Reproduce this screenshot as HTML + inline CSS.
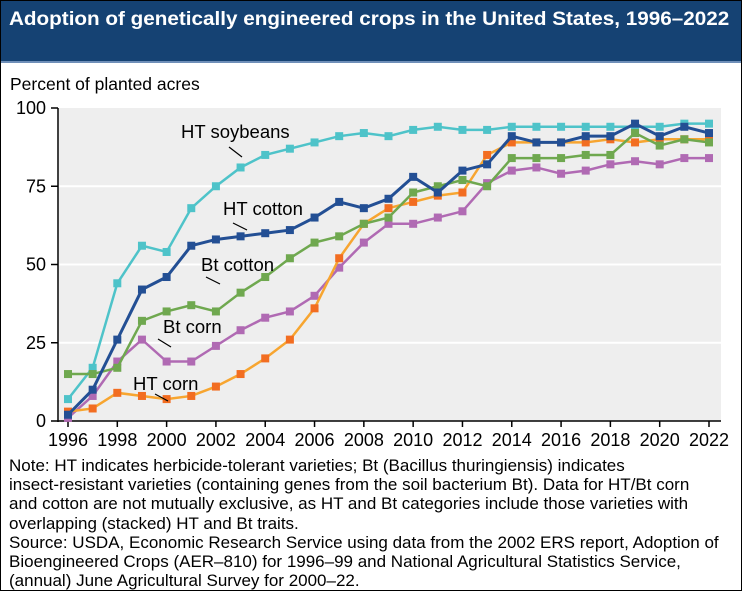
<!DOCTYPE html>
<html><head><meta charset="utf-8"><style>
body{margin:0;background:#fff;}
#wrap{position:relative;width:740px;height:589px;border:1px solid #000;overflow:hidden;font-family:"Liberation Sans",Arial,sans-serif;}
#title{position:absolute;left:0;top:0;width:740px;height:60px;background:#154273;border-bottom:2px solid #6f8fb8;}
#title span{position:absolute;left:8px;top:7px;color:#fff;font-weight:bold;font-size:19.5px;white-space:nowrap;transform-origin:0 0;transform:scaleX(1.06);}
#note{position:absolute;left:8px;top:455px;font-size:17px;line-height:19.2px;color:#000;white-space:nowrap;}
</style></head><body>
<div id="wrap">
<div id="title"><span>Adoption of genetically engineered crops in the United States, 1996–2022</span></div>
<svg id="svg" width="740" height="460" style="position:absolute;left:0;top:0"></svg>
<div id="note">Note: HT indicates herbicide-tolerant varieties; Bt (Bacillus thuringiensis) indicates<br>insect-resistant varieties (containing genes from the soil bacterium Bt). Data for HT/Bt corn<br>and cotton are not mutually exclusive, as HT and Bt categories include those varieties with<br>overlapping (stacked) HT and Bt traits.<br>Source: USDA, Economic Research Service using data from the 2002 ERS report, Adoption of<br>Bioengineered Crops (AER–810) for 1996–99 and National Agricultural Statistics Service,<br>(annual) June Agricultural Survey for 2000–22.</div>
</div>
<script>
const years=[1996,1997,1998,1999,2000,2001,2002,2003,2004,2005,2006,2007,2008,2009,2010,2011,2012,2013,2014,2015,2016,2017,2018,2019,2020,2021,2022];
const htSoy=[7,17,44,56,54,68,75,81,85,87,89,91,92,91,93,94,93,93,94,94,94,94,94,94,94,95,95];
const htCotton=[2,10,26,42,46,56,58,59,60,61,65,70,68,71,78,73,80,82,91,89,89,91,91,95,91,94,92];
const btCotton=[15,15,17,32,35,37,35,41,46,52,57,59,63,65,73,75,77,75,84,84,84,85,85,92,88,90,89];
const btCorn=[1,8,19,26,19,19,24,29,33,35,40,49,57,63,63,65,67,76,80,81,79,80,82,83,82,84,84];
const htCorn=[3,4,9,8,7,8,11,15,20,26,36,52,63,68,70,72,73,85,89,89,89,89,90,89,90,90,90];
const yTicks=[0,25,50,75,100];
const xTicks=[1996,1998,2000,2002,2004,2006,2008,2010,2012,2014,2016,2018,2020,2022];
const NS="http://www.w3.org/2000/svg";
const svg=document.getElementById('svg');
const X=v=>67+(v-1996)*(708-67)/26;
const Y=v=>420-v*(420-107)/100;
function el(t,a){const e=document.createElementNS(NS,t);for(const k in a)e.setAttribute(k,a[k]);svg.appendChild(e);return e;}
let e=el('rect',{x:58,y:Y(100),width:662,height:Y(0)-Y(100),fill:'#eeeeee'});

e=el('text',{x:9,y:89,'font-size':17.5});e.textContent='Percent of planted acres';

yTicks.forEach(t=>{
 if(t>0&&t<100){const g=el('line',{x1:58,x2:720,y1:Y(t),y2:Y(t),stroke:'#fff','stroke-width':2});}
 el('line',{x1:50,x2:57,y1:Y(t),y2:Y(t),stroke:'#000','stroke-width':1.5});
 const tx=el('text',{x:45,y:Y(t)+6,'font-size':18,'text-anchor':'end'});tx.textContent=t;
 
});
el('line',{x1:57,x2:57,y1:Y(100),y2:Y(0)+1,stroke:'#000','stroke-width':1.5});
el('line',{x1:57,x2:720,y1:Y(0),y2:Y(0),stroke:'#000','stroke-width':1.5});
xTicks.forEach(t=>{
 el('line',{x1:X(t),x2:X(t),y1:Y(0),y2:Y(0)+6,stroke:'#000','stroke-width':1.5});
 const tx=el('text',{x:X(t),y:Y(0)+25,'font-size':18,'text-anchor':'middle'});tx.textContent=t;
 
});
const series=[
 ['ht-soybeans',htSoy,'#4ec3c9','#4ec3c9'],
 ['bt-corn',btCorn,'#b06ab3','#b06ab3'],
 ['ht-corn',htCorn,'#f7a530','#f26d21'],
 ['bt-cotton',btCotton,'#6fa84f','#6fa84f'],
 ['ht-cotton',htCotton,'#234f94','#234f94']];
series.forEach(([n,d,lc,mc])=>{
 const p=el('polyline',{points:d.map((v,i)=>X(years[i])+','+Y(v)).join(' '),fill:'none',stroke:lc,'stroke-width':n=='ht-cotton'?3:2.5});
 
 d.forEach((v,i)=>{const r=el('rect',{x:X(years[i])-4,y:Y(v)-4,width:8,height:8,fill:mc});
 });
});
const labels=[['HT soybeans',180,137,228,146,241,156],['HT cotton',222,214,232,222,246,229],['Bt cotton',200,270,205,276,219,283],['Bt corn',162,332,157,338,170,346],['HT corn',132,389,154,393,167,400]];
labels.forEach(([t,x,y,x1,y1,x2,y2])=>{
 const tx=el('text',{x:x,y:y,'font-size':18.5});tx.textContent=t;
 
 el('line',{x1:x1,y1:y1,x2:x2,y2:y2,stroke:'#000','stroke-width':1.2});
});
</script>
</body></html>
